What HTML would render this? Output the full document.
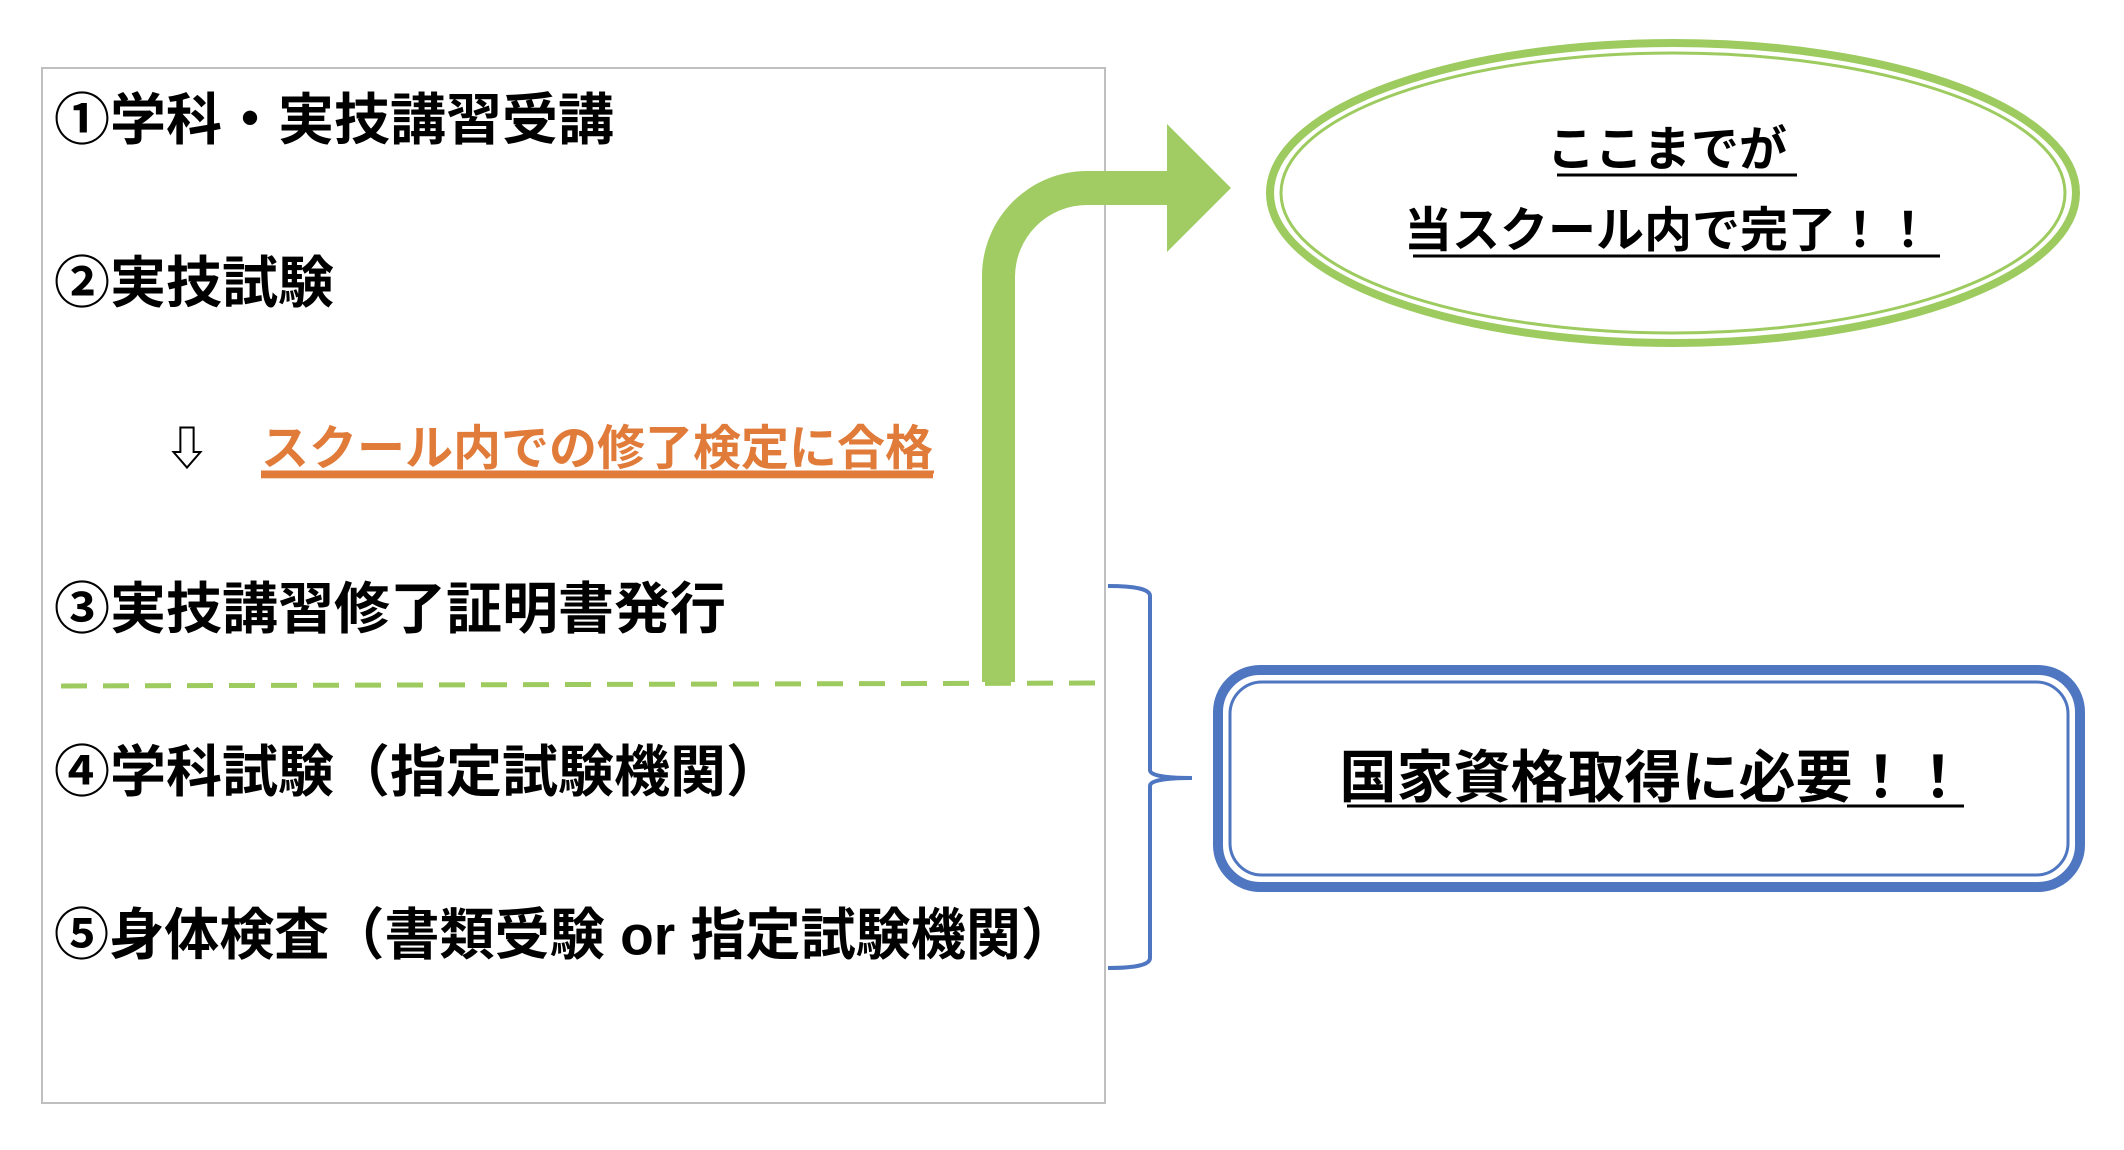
<!DOCTYPE html>
<html><head><meta charset="utf-8"><style>
html,body{margin:0;padding:0;background:#fff;}
svg{display:block;}
text{font-family:"Liberation Sans","Noto Sans CJK JP",sans-serif;font-weight:bold;}
</style></head><body>
<svg width="2124" height="1150" viewBox="0 0 2124 1150" xmlns="http://www.w3.org/2000/svg">
<rect x="42" y="68" width="1063" height="1035" fill="#fff" stroke="#bfbfbf" stroke-width="2"/>
<g font-size="56" fill="#000" dominant-baseline="central">
<text x="54" y="120">①学科・実技講習受講</text>
<text x="54" y="283">②実技試験</text>
<text x="54" y="609">③実技講習修了証明書発行</text>
<text x="54" y="772">④学科試験（指定試験機関）</text>
<text x="54" y="935" textLength="1022" lengthAdjust="spacingAndGlyphs">⑤身体検査（書類受験 or 指定試験機関）</text>
</g>
<text x="164" y="449" font-size="46" fill="#000" dominant-baseline="central">⇩</text>
<text x="261" y="449" font-size="48" fill="#E07B39" dominant-baseline="central" text-decoration="underline">スクール内での修了検定に合格</text>
<line x1="261" y1="472" x2="934" y2="472" stroke="#E07B39" stroke-width="3"/>
<line x1="61" y1="686" x2="1096" y2="683" stroke="#9DCB5F" stroke-width="5" stroke-dasharray="26,16"/>
<path d="M982 682 V276 A105 105 0 0 1 1087 171 H1167 V124 L1231 188 L1167 252 V205 H1087 A72 72 0 0 0 1015 277 V682 Z" fill="#A0CC63"/>
<ellipse cx="1673" cy="193" rx="403" ry="150" fill="#fff" stroke="#9DCB5F" stroke-width="8"/>
<ellipse cx="1673" cy="193" rx="392" ry="140" fill="none" stroke="#9DCB5F" stroke-width="3"/>
<g font-size="48" fill="#000" text-anchor="middle" dominant-baseline="central">
<text x="1667" y="150">ここまでが</text>
<text x="1668" y="231">当スクール内で完了！！</text>
</g>
<line x1="1557" y1="175" x2="1797" y2="175" stroke="#000" stroke-width="3"/>
<line x1="1413" y1="256" x2="1940" y2="256" stroke="#000" stroke-width="3"/>
<path d="M1108 586 Q1150 586 1150 596 V770 Q1150 778 1192 778 Q1150 778 1150 786 V958 Q1150 968 1108 968" fill="none" stroke="#4F76C0" stroke-width="4"/>
<rect x="1218" y="670" width="862" height="217" rx="42" fill="#fff" stroke="#4F76C0" stroke-width="10"/>
<rect x="1230" y="682" width="838" height="193" rx="32" fill="none" stroke="#4F76C0" stroke-width="3"/>
<text x="1653" y="778" font-size="57" fill="#000" text-anchor="middle" dominant-baseline="central">国家資格取得に必要！！</text>
<line x1="1347" y1="806" x2="1964" y2="806" stroke="#000" stroke-width="3"/>
</svg>
</body></html>
